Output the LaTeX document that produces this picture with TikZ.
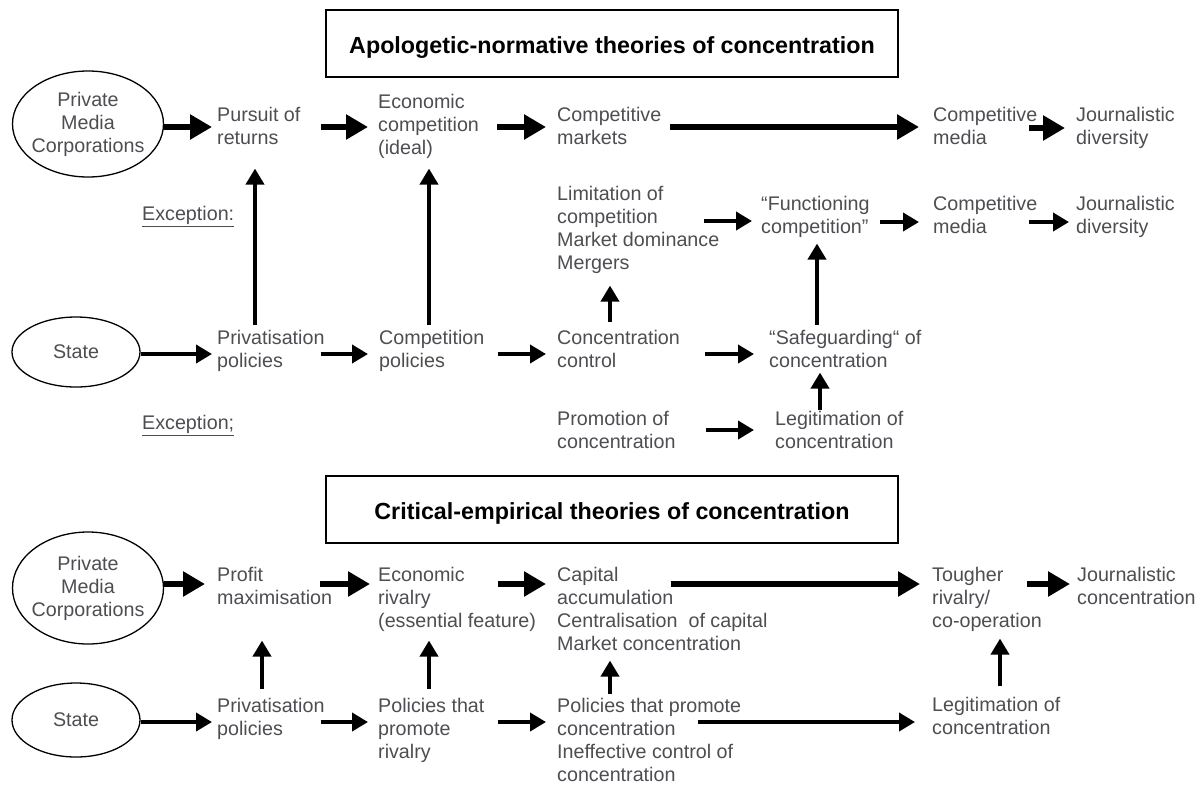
\documentclass[tikz,border=0pt]{standalone}
\usepackage{fontspec}
\setmainfont{Liberation Sans}
\usetikzlibrary{shapes.geometric, arrows.meta, calc}
\definecolor{txtgray}{RGB}{77,77,82}
\newcommand{\bodyfont}{\fontsize{19.7}{23}\selectfont}
\newcommand{\headfont}{\fontsize{23.3}{28}\selectfont\bfseries}

\begin{document}
\begin{tikzpicture}[x=1pt, y=-1pt,
    txt/.style={anchor=north west, inner sep=0pt, align=left, text=txtgray, font=\bodyfont,
      execute at begin node=\strut, execute at end node=\strut},
    actor/.style={ellipse, draw, line width=1.3pt, inner sep=0pt, align=center, text=txtgray, font=\bodyfont},
    headbox/.style={draw, line width=1.5pt, minimum width=572pt, minimum height=67pt,
      text height=20pt, text depth=0pt, font=\headfont},
    bigarr/.style={line width=6pt, -{Triangle[length=22pt, width=24pt]}},
    smallarr/.style={line width=3.8pt, -{Triangle[length=16pt, width=18pt]}}]
    \useasboundingbox (0,0) rectangle (1204,785);
    % Rows of the horizontal arrows
    \coordinate (r1) at (0,127);
    \coordinate (r2) at (0,222);
    \coordinate (r3) at (0,354);
    \coordinate (r4) at (0,430);
    \coordinate (r5) at (0,584);
    \coordinate (r6) at (0,722);

    % Apologetic-normative theories
    \node[headbox] (headA) at (612,43.5) {Apologetic-normative theories of concentration};
    \node[actor, minimum width=151pt, minimum height=106pt, inner xsep=-4pt] (pmcA) at (88,124) {Private\\Media\\Corporations};
    \node[txt] (pursuit) at (217,107) {Pursuit of\\returns};
    \node[txt] (econA) at (378,94) {Economic\\competition\\(ideal)};
    \node[txt] (compMkt) at (557,107) {Competitive\\markets};
    \node[txt] (compMedA) at (933,107) {Competitive\\media};
    \node[txt] (journA) at (1076,107) {Journalistic\\diversity};
    \node[txt] (excA) at (142,204) {\underline{Exception:}};
    \node[txt] (limit) at (557,186) {Limitation of\\competition\\Market dominance\\Mergers};
    \node[txt] (funct) at (761,196) {“Functioning\\competition"};
    \node[txt] (compMedB) at (933,196) {Competitive\\media};
    \node[txt] (journB) at (1076,196) {Journalistic\\diversity};
    \node[actor, minimum width=128pt, minimum height=70pt] (stateA) at (76,352) {State};
    \node[txt] (privA) at (217,330) {Privatisation\\policies};
    \node[txt] (compPol) at (379,330) {Competition\\policies};
    \node[txt] (concCtrl) at (557,330) {Concentration\\control};
    \node[txt] (safeg) at (769,330) {“Safeguarding“ of\\concentration};
    \node[txt] (excB) at (142,413) {\underline{Exception;}};
    \node[txt] (promo) at (557,411) {Promotion of\\concentration};
    \node[txt] (legitA) at (775,411) {Legitimation of\\concentration};

    \draw[bigarr] (pmcA.east |- r1) -- ($(pursuit.west |- r1)+(-5,0)$);
    \draw[bigarr] ($(pursuit.east |- r1)+(20,0)$) -- ($(econA.west |- r1)+(-10,0)$);
    \draw[bigarr] ($(econA.east |- r1)+(18,0)$) -- ($(compMkt.west |- r1)+(-11,0)$);
    \draw[bigarr] ($(compMkt.east |- r1)+(9,0)$) -- ($(compMedA.west |- r1)+(-14,0)$);
    \draw[bigarr] ($(compMedA.east |- r1)+(-8,1)$) -- ($(journA.west |- r1)+(-11,1)$);
    \draw[smallarr] ($(limit.east |- r2)+(-15,-1)$) -- ($(funct.west |- r2)+(-9,-1)$);
    \draw[smallarr] ($(funct.east |- r2)+(10,0)$) -- ($(compMedB.west |- r2)+(-14,0)$);
    \draw[smallarr] ($(compMedB.east |- r2)+(-8,0)$) -- ($(journB.west |- r2)+(-7,0)$);
    \draw[smallarr] (stateA.east |- r3) -- ($(privA.west |- r3)+(-5,0)$);
    \draw[smallarr] ($(privA.east |- r3)+(-4,0)$) -- ($(compPol.west |- r3)+(-11,0)$);
    \draw[smallarr] ($(compPol.east |- r3)+(13,0)$) -- ($(concCtrl.west |- r3)+(-11,0)$);
    \draw[smallarr] ($(concCtrl.east |- r3)+(25,0)$) -- ($(safeg.west |- r3)+(-15,0)$);
    \draw[smallarr] ($(promo.east |- r4)+(30,0)$) -- ($(legitA.west |- r4)+(-21,0)$);
    \draw[smallarr] ($(privA.north west)+(38,-5)$) -- ($(pursuit.south west)+(38,17)$);
    \draw[smallarr] ($(compPol.north west)+(50,-5)$) -- ($(econA.south west)+(51,7)$);
    \draw[smallarr] ($(concCtrl.north west)+(53,-8)$) -- ($(limit.south west)+(53,9)$);
    \draw[smallarr] ($(safeg.north west)+(48,-5)$) -- ($(funct.south west)+(56,3)$);
    \draw[smallarr] ($(legitA.north west)+(45,-1)$) -- ($(safeg.south west)+(51,-2)$);

    % Critical-empirical theories
    \node[headbox] (headB) at (612,509.5) {Critical-empirical theories of concentration};
    \node[actor, minimum width=151pt, minimum height=112pt, inner xsep=-4pt] (pmcB) at (88,588) {Private\\Media\\Corporations};
    \node[txt] (profit) at (217,567) {Profit\\maximisation};
    \node[txt] (econB) at (378,567) {Economic\\rivalry\\(essential feature)};
    \node[txt] (capital) at (557,567) {Capital\\accumulation\\Centralisation~ of capital\\Market concentration};
    \node[txt] (tougher) at (932,567) {Tougher\\rivalry/\\co-operation};
    \node[txt] (journC) at (1077,567) {Journalistic\\concentration};
    \node[actor, minimum width=128pt, minimum height=74pt] (stateB) at (76,720) {State};
    \node[txt] (privB) at (217,698) {Privatisation\\policies};
    \node[txt] (polRiv) at (378,698) {Policies that\\promote\\rivalry};
    \node[txt] (polConc) at (557,698) {Policies that promote\\concentration\\Ineffective control of\\concentration};
    \node[txt] (legitB) at (932,697) {Legitimation of\\concentration};

    \draw[bigarr] (pmcB.east |- r5) -- ($(profit.west |- r5)+(-12,0)$);
    \draw[bigarr] ($(profit.east |- r5)+(-12,0)$) -- ($(econB.west |- r5)+(-8,0)$);
    \draw[bigarr] ($(econB.east |- r5)+(-38,0)$) -- ($(capital.west |- r5)+(-11,0)$);
    \draw[bigarr] ($(capital.east |- r5)+(-97,0)$) -- ($(tougher.west |- r5)+(-12,0)$);
    \draw[bigarr] ($(tougher.east |- r5)+(-15,0)$) -- ($(journC.west |- r5)+(-7,0)$);
    \draw[smallarr] (stateB.east |- r6) -- ($(privB.west |- r6)+(-5,0)$);
    \draw[smallarr] ($(privB.east |- r6)+(-4,0)$) -- ($(polRiv.west |- r6)+(-10,0)$);
    \draw[smallarr] ($(polRiv.east |- r6)+(13,0)$) -- ($(polConc.west |- r6)+(-11,0)$);
    \draw[smallarr] ($(polConc.east |- r6)+(-43,0)$) -- ($(legitB.west |- r6)+(-17,0)$);
    \draw[smallarr] ($(privB.north west)+(45,-9)$) -- ($(profit.south west)+(45,29)$);
    \draw[smallarr] ($(polRiv.north west)+(51,-9)$) -- ($(econB.south west)+(51,6)$);
    \draw[smallarr] ($(polConc.north west)+(53,-4)$) -- ($(capital.south west)+(53,3)$);
    \draw[smallarr] ($(legitB.north west)+(68,-11)$) -- ($(tougher.south west)+(68,4)$);
\end{tikzpicture}
\end{document}
